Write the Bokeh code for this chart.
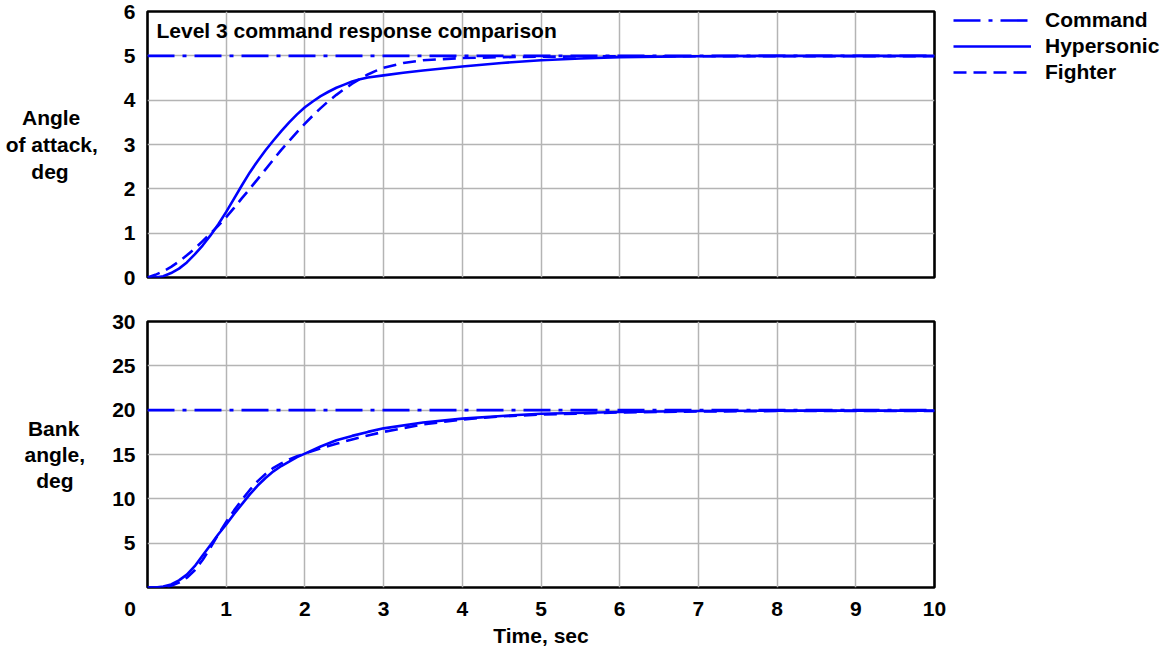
from bokeh.plotting import figure
from bokeh.layouts import column
from bokeh.models import Range1d, FixedTicker, Label, Legend, LegendItem
from bokeh.embed import file_html
from bokeh.resources import INLINE

# ---------------- data ----------------
cmd_t = [0, 10]
aoa_cmd = [5, 5]
bank_cmd = [20, 20]

aoa_hyp_t = [0, 0.1, 0.2, 0.3, 0.4, 0.5, 0.6, 0.7, 0.8, 0.9, 1.0, 1.1, 1.2, 1.3, 1.4, 1.5,
             1.6, 1.7, 1.8, 1.9, 2.0, 2.1, 2.2, 2.3, 2.4, 2.5, 2.6, 2.7, 2.8, 3.0, 3.25, 3.5,
             4.0, 4.5, 5.0, 5.5, 6.0, 7.0, 8.0, 9.0, 10.0]
aoa_hyp = [0, 0.0, 0.03, 0.1, 0.2, 0.34, 0.52, 0.72, 0.95, 1.2, 1.48, 1.78, 2.08, 2.37, 2.63, 2.87,
           3.09, 3.3, 3.5, 3.68, 3.84, 3.97, 4.09, 4.19, 4.28, 4.35, 4.42, 4.47, 4.51, 4.56, 4.62, 4.67,
           4.76, 4.84, 4.9, 4.94, 4.97, 4.99, 5.0, 5.0, 5.0]

aoa_fig_t = [0, 0.1, 0.2, 0.3, 0.4, 0.5, 0.6, 0.7, 0.8, 0.9, 1.0, 1.1, 1.2, 1.3, 1.4, 1.5,
             1.6, 1.7, 1.8, 1.9, 2.0, 2.1, 2.2, 2.3, 2.4, 2.5, 2.6, 2.7, 2.8, 2.9, 3.0, 3.25,
             3.5, 4.0, 4.5, 5.0, 6.0, 7.0, 8.0, 9.0, 10.0]
aoa_fig = [0, 0.06, 0.14, 0.24, 0.36, 0.5, 0.65, 0.82, 0.99, 1.17, 1.36, 1.57, 1.79, 2.0, 2.22, 2.44,
           2.66, 2.88, 3.08, 3.28, 3.47, 3.65, 3.82, 3.98, 4.12, 4.25, 4.37, 4.48, 4.58, 4.66, 4.73, 4.84,
           4.9, 4.95, 4.97, 4.98, 4.99, 4.99, 4.99, 4.99, 4.99]

bank_hyp_t = [0, 0.1, 0.2, 0.3, 0.4, 0.5, 0.6, 0.7, 0.8, 0.9, 1.0, 1.1, 1.2, 1.3, 1.4, 1.5,
              1.6, 1.7, 1.8, 1.9, 2.0, 2.2, 2.4, 2.6, 2.8, 3.0, 3.5, 4.0, 4.5, 5.0, 6.0,
              7.0, 8.0, 9.0, 10.0]
bank_hyp = [0, 0.0, 0.1, 0.35, 0.8, 1.45, 2.4, 3.6, 4.8, 6.0, 7.1, 8.3, 9.4, 10.5, 11.5, 12.35,
            13.1, 13.7, 14.2, 14.7, 15.1, 15.9, 16.6, 17.1, 17.55, 17.95, 18.6, 19.05, 19.35, 19.6, 19.8,
            19.9, 19.95, 19.95, 19.95]

bank_fig_t = [0, 0.1, 0.2, 0.3, 0.4, 0.5, 0.6, 0.7, 0.8, 0.9, 1.0, 1.1, 1.2, 1.3, 1.4, 1.5,
              1.6, 1.7, 1.8, 1.9, 2.0, 2.2, 2.4, 2.6, 2.8, 3.0, 3.5, 4.0, 4.5, 5.0, 6.0,
              7.0, 8.0, 9.0, 10.0]
bank_fig = [0, 0.0, 0.05, 0.2, 0.55, 1.1, 1.95, 3.1, 4.5, 6.0, 7.4, 8.7, 9.9, 11.0, 12.0, 12.8,
            13.5, 14.0, 14.45, 14.8, 15.1, 15.7, 16.2, 16.7, 17.15, 17.55, 18.4, 18.95, 19.3, 19.5, 19.75,
            19.85, 19.9, 19.9, 19.9]

x_ticks = [0, 1, 2, 3, 4, 5, 6, 7, 8, 9, 10]
aoa_ticks = [0, 1, 2, 3, 4, 5, 6]
bank_ticks = [5, 10, 15, 20, 25, 30]

FONT = "Liberation Sans"
FS = "21px"
BLUE = "#0000ff"
GRID = "#b4b4b4"
LW = 2.6
CMD_DASH = "27 8 4 8"
FIG_DASH = "13 7"
NB = "\u00a0"


def base_fig(y_end, border_top, border_bottom):
    p = figure(frame_width=787, frame_height=266,
               x_range=Range1d(0, 10), y_range=Range1d(0, y_end),
               min_border_left=147, min_border_right=225,
               min_border_top=border_top, min_border_bottom=border_bottom,
               output_backend="svg", toolbar_location=None)
    p.outline_line_color = "black"
    p.outline_line_width = 2.6
    p.outline_line_alpha = 1.0
    p.background_fill_color = "white"
    p.border_fill_color = "white"
    for ax in p.axis:
        ax.axis_line_color = None
        ax.major_tick_line_color = None
        ax.minor_tick_line_color = None
        ax.major_tick_out = 0
        ax.major_tick_in = 0
        ax.major_label_text_font = FONT
        ax.major_label_text_font_style = "bold"
        ax.major_label_text_font_size = FS
        ax.major_label_text_color = "black"
        ax.axis_label_text_font = FONT
        ax.axis_label_text_font_style = "bold"
        ax.axis_label_text_font_size = FS
        ax.axis_label_text_color = "black"
    p.grid.grid_line_color = GRID
    p.grid.grid_line_width = 1.5
    p.xgrid.ticker = FixedTicker(ticks=[1, 2, 3, 4, 5, 6, 7, 8, 9])
    return p


# ---------------- top panel ----------------
top = base_fig(6, 11, 23)
top.xaxis.visible = False
top.yaxis.ticker = FixedTicker(ticks=aoa_ticks)
top.yaxis.major_label_standoff = 12
top.yaxis.axis_label = "Angle" + NB * 3 + "\nof attack,\ndeg" + NB * 5
top.yaxis.axis_label_orientation = "horizontal"
top.yaxis.axis_label_standoff = 23
top.yaxis.axis_label_text_line_height = 1.18
top.ygrid.ticker = FixedTicker(ticks=[1, 2, 3, 4, 5])

r_cmd = top.line(cmd_t, aoa_cmd, line_color=BLUE, line_width=LW, line_dash=CMD_DASH)
r_hyp = top.line(aoa_hyp_t, aoa_hyp, line_color=BLUE, line_width=LW)
r_fig = top.line(aoa_fig_t, aoa_fig, line_color=BLUE, line_width=LW, line_dash=FIG_DASH)

top.add_layout(Label(x=0.114, y=5.57, text="Level 3 command response comparison",
                     text_align="left", text_baseline="middle", text_font=FONT,
                     text_font_style="bold", text_font_size=FS, text_color="black"))

legend = Legend(items=[LegendItem(label="Command", renderers=[r_cmd]),
                       LegendItem(label="Hypersonic", renderers=[r_hyp]),
                       LegendItem(label="Fighter", renderers=[r_fig])],
                location=(19, 193), glyph_width=78, glyph_height=24, label_height=24,
                spacing=2, padding=0, margin=0, label_standoff=14,
                label_text_font=FONT, label_text_font_style="bold",
                label_text_font_size=FS, label_text_color="black",
                border_line_alpha=0, background_fill_alpha=0)
top.add_layout(legend, "right")

# ---------------- bottom panel ----------------
bot = base_fig(30, 21, 50)
bot.xaxis.ticker = FixedTicker(ticks=x_ticks)
bot.xaxis.major_label_overrides = {0: "0" + NB * 6}
bot.xaxis.major_label_standoff = 9
bot.xaxis.axis_label = "Time, sec"
bot.xaxis.axis_label_standoff = 1
bot.yaxis.ticker = FixedTicker(ticks=bank_ticks)
bot.yaxis.major_label_standoff = 12
bot.yaxis.axis_label = "Bank" + NB + "\nangle,\ndeg" + NB * 2
bot.yaxis.axis_label_orientation = "horizontal"
bot.yaxis.axis_label_standoff = 24
bot.yaxis.axis_label_text_line_height = 1.12
bot.ygrid.ticker = FixedTicker(ticks=[5, 10, 15, 20, 25])

bot.line(cmd_t, bank_cmd, line_color=BLUE, line_width=LW, line_dash=CMD_DASH)
bot.line(bank_hyp_t, bank_hyp, line_color=BLUE, line_width=LW)
bot.line(bank_fig_t, bank_fig, line_color=BLUE, line_width=LW, line_dash=FIG_DASH)

layout = column(top, bot, spacing=0)
open("out.html", "w").write(file_html(layout, INLINE))
